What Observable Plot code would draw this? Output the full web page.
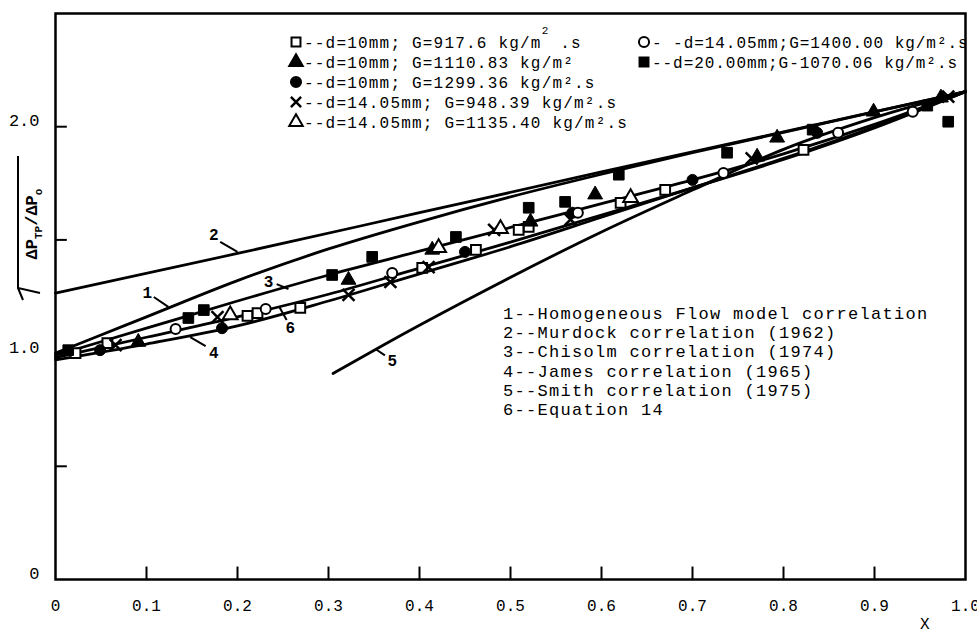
<!DOCTYPE html>
<html>
<head>
<meta charset="utf-8">
<script src="https://cdn.jsdelivr.net/npm/d3@7"></script>
<script src="https://cdn.jsdelivr.net/npm/@observablehq/plot@0.6"></script>
<style>
  body { margin: 0; background: #fff; }
  #chart svg { display: block; }
</style>
</head>
<body>
<div id="chart"></div>
<script>
// Axis ticks and labels
const xTicks = [0, 0.1, 0.2, 0.3, 0.4, 0.5, 0.6, 0.7, 0.8, 0.9, 1.0];
const yTicks = [0.5, 1.0, 1.5, 2.0];
const yTickLabels = [0, 1, 2];

// Correlation curves, [quality X, sqrt(dPtp/dPo)]
const homogeneous = [[0, 1.0], [0.05, 1.08], [0.1, 1.16], [0.2, 1.32], [0.3, 1.46], [0.4, 1.58], [0.5, 1.69], [0.6, 1.79], [0.7, 1.885], [0.8, 1.975], [0.9, 2.065], [1.0, 2.155]];
const murdock = [[0, 1.265], [0.2, 1.44], [0.4, 1.62], [0.6, 1.80], [0.8, 1.977], [1.0, 2.155]];
const chisolm = [[0, 0.99], [0.1, 1.11], [0.2, 1.23], [0.3, 1.345], [0.4, 1.45], [0.5, 1.555], [0.6, 1.66], [0.7, 1.765], [0.8, 1.88], [0.9, 2.01], [1.0, 2.155]];
const james = [[0, 0.97], [0.1, 1.04], [0.2, 1.12], [0.3, 1.23], [0.4, 1.35], [0.5, 1.47], [0.6, 1.6], [0.7, 1.73], [0.8, 1.86], [0.9, 2.0], [1.0, 2.155]];
const smith = [[0.305, 0.91], [0.36, 1.035], [0.45, 1.23], [0.6, 1.535], [0.7, 1.72], [0.8, 1.9], [0.9, 2.04], [1.0, 2.155]];
const equation14 = [[0, 0.98], [0.1, 1.07], [0.2, 1.16], [0.3, 1.26], [0.4, 1.375], [0.5, 1.49], [0.6, 1.61], [0.7, 1.73], [0.8, 1.855], [0.9, 1.995], [1.0, 2.155]];

// Measurements
const d10G917 = [[0.022, 1.0], [0.057, 1.044], [0.211, 1.164], [0.222, 1.177], [0.269, 1.2], [0.403, 1.376], [0.462, 1.456], [0.509, 1.544], [0.52, 1.558], [0.621, 1.664], [0.670, 1.721], [0.822, 1.898]];
const d10G1110 = [[0.091, 1.049], [0.322, 1.323], [0.414, 1.456], [0.522, 1.58], [0.593, 1.70], [0.771, 1.867], [0.793, 1.951], [0.899, 2.066], [0.973, 2.128]];
const d10G1299 = [[0.049, 1.013], [0.183, 1.11], [0.45, 1.447], [0.568, 1.62], [0.70, 1.765], [0.837, 1.973]];
const d1405G948 = [[0.066, 1.035], [0.178, 1.159], [0.322, 1.257], [0.368, 1.314], [0.41, 1.38], [0.482, 1.544], [0.566, 1.59], [0.765, 1.86], [0.981, 2.133]];
const d1405G1135 = [[0.192, 1.168], [0.421, 1.465], [0.489, 1.549], [0.632, 1.686]];
const d1405G1400 = [[0.132, 1.106], [0.231, 1.195], [0.37, 1.354], [0.574, 1.62], [0.734, 1.796], [0.860, 1.973], [0.942, 2.066]];
const d20G1070 = [[0.014, 1.013], [0.146, 1.155], [0.163, 1.19], [0.304, 1.345], [0.348, 1.425], [0.44, 1.513], [0.52, 1.642], [0.56, 1.668], [0.619, 1.788], [0.738, 1.885], [0.832, 1.987], [0.958, 2.093], [0.981, 2.022]];

// Curve number annotations: [label, label x, label y, leader start x, y, leader end x, y]
const curveTags = [
  ["1", 0.101, 1.265, 0.108, 1.248, 0.124, 1.204],
  ["2", 0.174, 1.522, 0.181, 1.491, 0.200, 1.447],
  ["3", 0.234, 1.314, 0.243, 1.305, 0.256, 1.283],
  ["4", 0.174, 1.000, 0.165, 1.031, 0.148, 1.071],
  ["6", 0.258, 1.111, 0.254, 1.146, 0.246, 1.204],
  ["5", 0.370, 0.965, 0.362, 0.990, 0.352, 1.017]
];

const seriesLegend = [
  {sym: "square", fill: "white", text: ["--d=10mm; G=917.6 kg/m", " .s"], sup: "2", col: 0, row: 0},
  {sym: "triangle", fill: "black", text: ["--d=10mm; G=1110.83 kg/m²"], col: 0, row: 1},
  {sym: "circle", fill: "black", text: ["--d=10mm; G=1299.36 kg/m².s"], col: 0, row: 2},
  {sym: "times", fill: "black", text: ["--d=14.05mm; G=948.39 kg/m².s"], col: 0, row: 3},
  {sym: "triangle", fill: "white", text: ["--d=14.05mm; G=1135.40 kg/m².s"], col: 0, row: 4},
  {sym: "circle", fill: "white", text: ["- -d=14.05mm;G=1400.00 kg/m².s"], col: 1, row: 0},
  {sym: "square", fill: "black", text: ["--d=20.00mm;G-1070.06 kg/m².s"], col: 1, row: 1}
];

const curveLegend = [
  "1--Homogeneous Flow model correlation",
  "2--Murdock correlation (1962)",
  "3--Chisolm correlation (1974)",
  "4--James correlation (1965)",
  "5--Smith correlation (1975)",
  "6--Equation 14"
];

const FONT = "Liberation Mono, DejaVu Sans Mono, monospace";
const px = d => d[0], py = d => d[1];
const lineOpts = {x: px, y: py, stroke: "black", strokeWidth: 2.8, curve: "monotone-x"};

const openDot = (data, symbol, r) => Plot.dot(data, {x: px, y: py, symbol, r, fill: "white", stroke: "black", strokeWidth: 2});
const solidDot = (data, symbol, r) => Plot.dot(data, {x: px, y: py, symbol, r, fill: "black", stroke: "black", strokeWidth: 1});

const chart = Plot.plot({
  width: 977,
  height: 633,
  marginLeft: 55,
  marginRight: 12,
  marginTop: 13,
  marginBottom: 54,
  x: {domain: [0, 1]},
  y: {domain: [0, 2.5]},
  style: {fontFamily: FONT, background: "white", color: "black"},
  marks: [
    Plot.frame({stroke: "black", strokeWidth: 2.5}),
    Plot.ruleX(xTicks.slice(1, -1), {x: d => d, y1: 0, y2: 0.055, stroke: "black", strokeWidth: 2}),
    Plot.ruleY(yTicks, {y: d => d, x1: 0, x2: 0.013, stroke: "black", strokeWidth: 2}),
    Plot.axisX(xTicks, {tickSize: 0, tickPadding: 20, fontSize: 16, tickFormat: d => d === 0 ? "0" : d.toFixed(1)}),
    Plot.axisY(yTickLabels, {tickSize: 0, tickPadding: 16, fontSize: 17, dy: -6, tickFormat: d => d === 0 ? "0" : d.toFixed(1)}),
    Plot.text(["X"], {frameAnchor: "bottom-right", text: d => d, dx: -36, dy: 49, fontSize: 16}),
    Plot.line(murdock, lineOpts),
    Plot.line(homogeneous, lineOpts),
    Plot.line(chisolm, lineOpts),
    Plot.line(james, lineOpts),
    Plot.line(equation14, lineOpts),
    Plot.line(smith, lineOpts),
    Plot.link(curveTags, {x1: d => d[3], y1: d => d[4], x2: d => d[5], y2: d => d[6], stroke: "black", strokeWidth: 2}),
    Plot.text(curveTags, {x: d => d[1], y: d => d[2], text: d => d[0], fontSize: 16, fontWeight: "bold"}),
    openDot(d10G917, "square", 5.5),
    solidDot(d10G1110, "triangle", 5.5),
    solidDot(d10G1299, "circle", 5.5),
    Plot.dot(d1405G948, {x: px, y: py, symbol: "times", r: 5.5, stroke: "black", strokeWidth: 2.5}),
    openDot(d1405G1135, "triangle", 5.5),
    openDot(d1405G1400, "circle", 5),
    solidDot(d20G1070, "square", 6)
  ]
});

const svg = d3.select(chart);

// Legend text stays inside the plot frame
svg.append("clipPath").attr("id", "inside-frame")
  .append("rect").attr("x", 0).attr("y", 0).attr("width", 966).attr("height", 633);

// Legend for the measured series
const symbols = {square: d3.symbolSquare, triangle: d3.symbolTriangle, circle: d3.symbolCircle, times: d3.symbolTimes};
const legend = svg.append("g").attr("font-family", FONT).attr("font-size", 16).attr("text-anchor", "start")
  .attr("clip-path", "url(#inside-frame)");
const colX = [296, 644], rowY0 = 42, rowStep = 20;
seriesLegend.forEach(s => {
  const x = colX[s.col], y = rowY0 + s.row * rowStep;
  legend.append("path")
    .attr("d", d3.symbol(symbols[s.sym], s.sym === "times" ? 70 : 80)())
    .attr("transform", `translate(${x},${y})`)
    .attr("fill", s.sym === "times" ? "none" : s.fill)
    .attr("stroke", "black").attr("stroke-width", s.sym === "times" ? 2.5 : 2);
  const t = legend.append("text").attr("x", x + 8).attr("y", y).attr("dy", "0.35em")
    .attr("letter-spacing", s.col ? 0.95 : 1.2);
  t.append("tspan").text(s.text[0]);
  if (s.sup) {
    t.append("tspan").attr("dy", -14).attr("font-size", 11).text(s.sup);
    t.append("tspan").attr("dy", 14).text(s.text[1]);
  }
});

// Legend for the numbered correlations
const cl = svg.append("g").attr("font-family", FONT).attr("font-size", 17).attr("letter-spacing", 1.3).attr("text-anchor", "start");
curveLegend.forEach((s, i) => {
  cl.append("text").attr("x", 503).attr("y", 313 + i * 19.2).attr("dy", "0.35em").text(s);
});

// Rotated y-axis label: sqrt(dP_TP / dP_o)
const yl = svg.append("g").attr("transform", "translate(37,224) rotate(-90)");
const yt = yl.append("text").attr("font-family", FONT).attr("font-size", 17).attr("font-weight", "bold").attr("text-anchor", "middle");
yt.append("tspan").text("ΔP");
yt.append("tspan").attr("font-size", 11).attr("dy", 5).text("TP");
yt.append("tspan").attr("dy", -5).text("/ΔP");
yt.append("tspan").attr("font-size", 11).attr("dy", 5).text("o");
svg.append("path")
  .attr("d", "M18,156 L18,288 L40,293 M18,288 L23,300")
  .attr("fill", "none").attr("stroke", "black").attr("stroke-width", 2);

document.getElementById("chart").append(chart);
</script>
</body>
</html>
